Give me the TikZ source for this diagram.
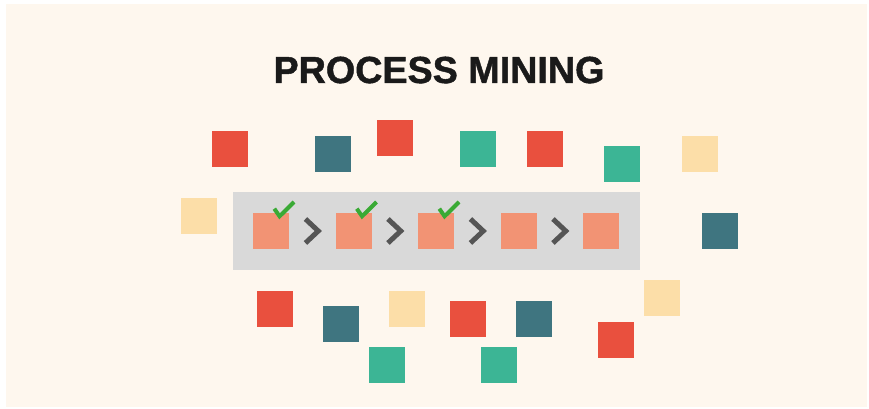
\documentclass[tikz,border=0pt]{standalone}
\usepackage{fontspec}
\setmainfont{Liberation Sans}
\newfontfamily\titlefont[FakeBold=1.2]{Liberation Sans Bold}
\usetikzlibrary{calc}
\definecolor{bgcream}{HTML}{FEF7EE}
\definecolor{sqred}{HTML}{E9503E}
\definecolor{sqteal}{HTML}{3F7580}
\definecolor{sqgreen}{HTML}{3CB595}
\definecolor{sqyellow}{HTML}{FCDEA8}
\definecolor{sqorange}{HTML}{F29374}
\definecolor{bargray}{HTML}{D9D9D9}
\definecolor{chevgray}{HTML}{555555}
\definecolor{checkgreen}{HTML}{3AAA35}
\definecolor{titleblack}{HTML}{1A1A1A}
\tikzset{
  sq/.style={minimum width=36pt, minimum height=36pt, inner sep=0pt, outer sep=0pt},
  chev/.style={draw=chevgray, line width=5pt, line join=miter},
  tick/.style={draw=checkgreen, line width=4pt},
}
\begin{document}
\begin{tikzpicture}[x=1pt,y=-1pt]
\useasboundingbox (0,0) rectangle (869,409);
\fill[white] (0,0) rectangle (869,409);
\fill[bgcream] (6,4) rectangle (867,407);
\node[text=titleblack, font=\fontsize{37.7}{40}\selectfont\titlefont, inner sep=0pt, anchor=base] (title) at (439,83) {PROCESS MINING};
% process bar
\node[fill=bargray, minimum width=407pt, minimum height=78pt, inner sep=0pt] (bar) at (436.5,231) {};
\foreach \i/\x in {1/271,2/353.5,3/436,4/518.5,5/601}{
  \node[sq, fill=sqorange] (p\i) at (\x,231) {};
}
\foreach \a/\b in {1/2,2/3,3/4,4/5}{
  \coordinate (c\a) at ($(p\a)!0.5!(p\b)$);
  \draw[chev] ([shift={(-6.8,-12)}]c\a) -- ([shift={(6,0)}]c\a) -- ([shift={(-6.8,12)}]c\a);
}
\foreach \i in {1,2,3}{
  \draw[tick] ([shift={(3.3,-4.3)}]p\i.north) -- ([shift={(8.6,3.3)}]p\i.north) -- ([shift={(23,-11)}]p\i.north);
}
% scattered squares
\node[sq, fill=sqred] (s1) at (230,149) {};
\node[sq, fill=sqteal] (s2) at (333.3,153.7) {};
\node[sq, fill=sqred] (s3) at (395,138.3) {};
\node[sq, fill=sqgreen] (s4) at (477.7,148.7) {};
\node[sq, fill=sqred] (s5) at (544.7,148.7) {};
\node[sq, fill=sqgreen] (s6) at (622,164) {};
\node[sq, fill=sqyellow] (s7) at (699.5,153.7) {};
\node[sq, fill=sqyellow] (s8) at (199,216) {};
\node[sq, fill=sqteal] (s9) at (720,231.3) {};
\node[sq, fill=sqred] (s10) at (275,308.7) {};
\node[sq, fill=sqteal] (s11) at (341,324) {};
\node[sq, fill=sqyellow] (s12) at (407,308.7) {};
\node[sq, fill=sqgreen] (s13) at (387,365.3) {};
\node[sq, fill=sqred] (s14) at (468,319) {};
\node[sq, fill=sqteal] (s15) at (534.3,319.3) {};
\node[sq, fill=sqgreen] (s16) at (499,365.3) {};
\node[sq, fill=sqred] (s17) at (615.7,339.5) {};
\node[sq, fill=sqyellow] (s18) at (661.7,298.3) {};
\end{tikzpicture}
\end{document}
